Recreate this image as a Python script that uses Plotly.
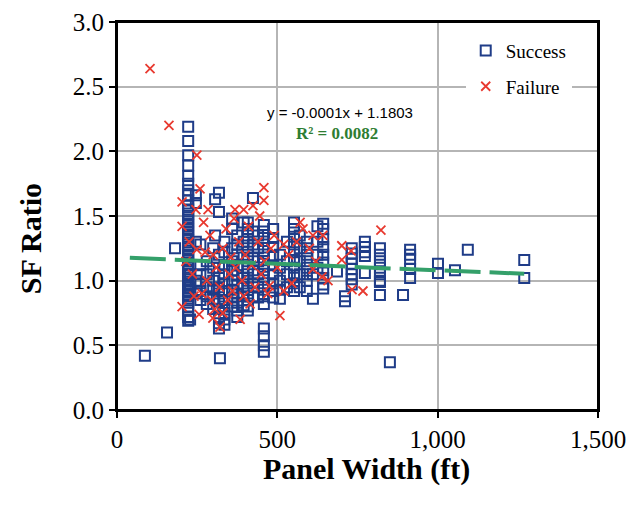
import plotly.graph_objects as go

# ---- data ----
# Success: columns of (panel width, list of SF ratios)
success_columns = [
    (87, [0.42]),
    (156, [0.60]),
    (181, [1.25]),
    (222, [2.19, 2.08, 1.97, 1.89, 1.81, 1.75, 1.70, 1.66, 1.62, 1.58, 1.55, 1.52, 1.49, 1.46,
           1.43, 1.40, 1.37, 1.34, 1.31, 1.28, 1.25, 1.22, 1.19, 1.16, 1.13, 1.10, 1.07, 1.04,
           1.01, 0.98, 0.95, 0.92, 0.89, 0.86, 0.83, 0.80, 0.77, 0.72, 0.69]),
    (228, [0.70, 1.05, 0.95]),
    (246, [1.66, 1.60, 1.30, 1.00, 0.90]),
    (260, [1.28, 1.12, 1.05, 0.98, 0.92, 0.85]),
    (280, [1.15, 1.05, 0.95, 0.88, 0.82]),
    (300, [1.25, 1.10, 1.00, 0.93, 0.86, 0.78]),
    (306, [1.63, 1.35]),
    (318, [1.68, 1.53, 1.20, 1.10, 1.02, 0.95, 0.90, 0.84, 0.78, 0.72, 0.67, 0.63]),
    (321, [0.40]),
    (335, [1.30, 1.22, 1.12, 1.05, 0.98, 0.92, 0.85, 0.80, 0.75, 0.70, 0.66]),
    (359, [1.48, 1.40, 1.25, 1.15, 1.08, 1.00, 0.93, 0.87, 0.80]),
    (375, [1.35, 1.28, 1.20, 1.12, 1.04, 0.97, 0.90, 0.83, 0.77, 0.72]),
    (395, [1.45, 1.30, 1.18, 1.10, 1.02, 0.95, 0.88, 0.81]),
    (408, [1.45, 1.40, 1.35, 1.30, 1.25, 1.20, 1.15, 1.10, 1.05, 1.00, 0.95, 0.90, 0.85, 0.80, 0.77]),
    (424, [1.64, 1.38, 1.28, 1.18, 1.08, 0.98, 0.88]),
    (440, [1.35, 1.25, 1.15, 1.05, 0.95, 0.87]),
    (458, [1.43, 1.38, 1.33, 1.28, 1.23, 1.18, 1.13, 1.08, 1.03, 0.98, 0.93, 0.88, 0.82,
           0.63, 0.57, 0.50, 0.45]),
    (487, [1.40, 1.33, 1.26, 1.19, 1.12, 1.05, 0.98, 0.92, 0.87]),
    (508, [1.20, 1.10, 1.00, 0.93, 0.86]),
    (530, [1.30, 1.15, 1.05, 0.95]),
    (552, [1.45, 1.40, 1.34, 1.28, 1.22, 1.16, 1.10, 1.04, 0.98, 0.92]),
    (570, [1.35, 1.25, 1.15, 1.05, 0.95]),
    (592, [1.30, 1.25, 1.20, 1.15, 1.10, 1.05, 1.00, 0.92]),
    (611, [1.05, 0.86]),
    (625, [1.42, 1.30, 1.20, 1.10]),
    (643, [1.44, 1.40, 1.32, 1.26, 1.20, 1.14, 1.08, 1.02, 0.97, 0.94]),
    (686, [1.07]),
    (711, [0.88, 0.84]),
    (732, [1.25, 1.21, 1.17, 1.13, 1.09, 1.05, 1.01, 0.97]),
    (773, [1.30, 1.26, 1.22, 1.19, 1.06]),
    (820, [1.25, 1.20, 1.15, 1.10, 1.05, 1.00, 0.99, 0.89]),
    (851, [0.37]),
    (892, [0.89]),
    (914, [1.24, 1.20, 1.17, 1.09, 1.02]),
    (1001, [1.13, 1.06]),
    (1054, [1.08]),
    (1094, [1.24]),
    (1270, [1.16, 1.02]),
]

failure_x = [103, 162, 249, 259, 203, 246, 284, 368, 203, 203, 256, 299, 321, 384, 249,
             458, 458, 424, 508, 571, 823, 701, 730, 701, 733, 767, 611, 642, 639, 658, 611,
             270, 290, 300, 310, 280, 265, 320, 330, 340, 350, 360, 345, 370, 380, 390, 395,
             400, 410, 420, 430, 440, 450, 460, 470, 480, 490, 500, 520, 535, 545, 560, 580,
             600, 620, 275, 235, 240, 225, 215, 295, 305, 355, 365, 415, 445, 475, 520, 395, 330]
failure_y = [2.64, 2.20, 1.97, 1.71, 1.61, 1.55, 1.55, 1.55, 1.42, 0.80, 0.74, 0.71, 0.64, 0.70, 1.24,
             1.72, 1.62, 1.58, 0.73, 1.45, 1.39, 1.27, 1.23, 1.16, 0.93, 0.92, 1.35, 1.35, 1.03, 1.00, 1.09,
             1.45, 1.35, 1.20, 1.10, 1.00, 0.90, 0.95, 1.25, 1.40, 1.05, 0.92, 0.85, 1.10, 1.30, 1.00, 0.88,
             1.20, 1.42, 1.12, 0.95, 1.30, 1.05, 1.15, 0.90, 1.25, 1.35, 1.10, 1.28, 1.20, 0.98, 1.30, 1.40,
             1.25, 1.15, 1.22, 1.05, 0.88, 1.30, 1.15, 0.85, 0.78, 1.18, 1.48, 0.82, 1.50, 0.96, 0.92, 1.55, 0.75]

trend_slope = -0.0001
trend_intercept = 1.1803
trend_x = [40, 1270]

x_ticks = [0, 500, 1000, 1500]
x_tick_labels = ["0", "500", "1,000", "1,500"]
y_ticks = [0.0, 0.5, 1.0, 1.5, 2.0, 2.5, 3.0]
y_tick_labels = ["0.0", "0.5", "1.0", "1.5", "2.0", "2.5", "3.0"]

success_x = [c[0] for c in success_columns for _ in c[1]]
success_y = [v for c in success_columns for v in c[1]]
trend_y = [trend_slope * x + trend_intercept for x in trend_x]

SERIF = "Liberation Serif"
NAVY = "#1f3c88"
RED = "#e8392f"
GREEN = "#34a06a"

fig = go.Figure()
fig.add_trace(go.Scatter(
    x=success_x, y=success_y, mode="markers", name="Success", legendgroup="s",
    marker=dict(symbol="square-open", size=10, color=NAVY, line=dict(width=2, color=NAVY)),
))
fig.add_trace(go.Scatter(
    x=failure_x, y=failure_y, mode="markers", name="Failure", legendgroup="f",
    marker=dict(symbol="x-thin", size=9, color=RED, line=dict(width=1.8, color=RED)),
))
fig.add_trace(go.Scatter(
    x=trend_x, y=trend_y, mode="lines", showlegend=False,
    line=dict(color=GREEN, width=4, dash="36px,9px"),
))

fig.add_annotation(x=695, y=2.30, text="y = -0.0001x + 1.1803", showarrow=False,
                   font=dict(family="Liberation Sans", size=15, color="black"))
fig.add_annotation(x=686, y=2.14, text="<b>R² = 0.0082</b>", showarrow=False,
                   font=dict(family=SERIF, size=17, color="#2e7d32"))

# axis titles
fig.add_annotation(xref="paper", yref="paper", x=0.518, y=0, yanchor="top", yshift=-40,
                   text="<b>Panel Width (ft)</b>", showarrow=False,
                   font=dict(family=SERIF, size=30, color="black"))
fig.add_annotation(xref="paper", yref="paper", x=0, y=0.44, xanchor="center", xshift=-87,
                   textangle=-90, text="<b>SF Ratio</b>", showarrow=False,
                   font=dict(family=SERIF, size=30, color="black"))

# plot frame
fig.add_shape(type="rect", xref="paper", yref="paper", x0=0, y0=0, x1=1, y1=1,
              line=dict(color="black", width=2), layer="above")

axis_common = dict(
    showline=True, linecolor="black", linewidth=2, mirror=True,
    showgrid=True, gridcolor="#b5b5b5", gridwidth=1.5,
    ticks="outside", ticklen=6, tickcolor="black", tickwidth=2,
    zeroline=False, automargin=False, ticklabeloverflow="allow",
    tickfont=dict(family=SERIF, size=25, color="black"),
)

fig.update_layout(
    width=635, height=505,
    margin=dict(l=109, r=45, t=14, b=103),
    plot_bgcolor="white", paper_bgcolor="white",
    showlegend=True,
    legend=dict(x=0.725, y=0.975, xanchor="left", yanchor="top",
                bgcolor="white", font=dict(family=SERIF, size=19, color="black"),
                traceorder="grouped", tracegroupgap=8, itemwidth=30),
    xaxis=dict(range=[0, 1500], tickvals=x_ticks, ticktext=x_tick_labels, **axis_common),
    yaxis=dict(range=[0, 3], tickvals=y_ticks, ticktext=y_tick_labels, **axis_common),
)

fig.write_html("out.html")
